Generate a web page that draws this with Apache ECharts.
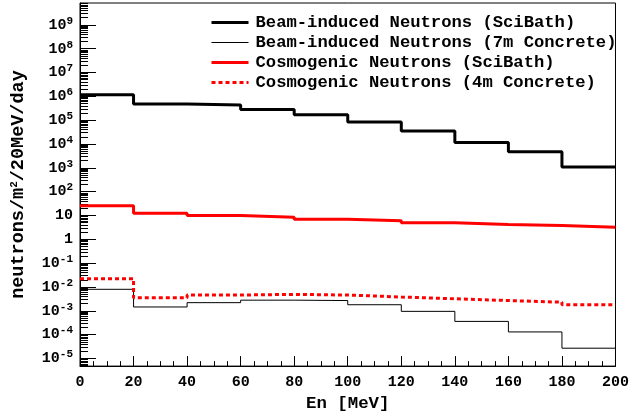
<!DOCTYPE html>
<html>
<head>
<meta charset="utf-8">
<script src="https://cdn.jsdelivr.net/npm/echarts@6/dist/echarts.min.js"></script>
<style>
  html, body { margin: 0; padding: 0; background: #fff; }
  #chart { width: 632px; height: 417px; }
</style>
</head>
<body>
<div id="chart"></div>
<script>
// Bin edges of the energy histograms (MeV)
const binEdges = [0, 20, 40, 60, 80, 100, 120, 140, 160, 180, 200];

// Neutron flux per 20 MeV bin, neutrons/m^2/20MeV/day
const beamSciBath     = [1.17e6, 4.8e5, 4.4e5, 2.8e5, 1.7e5, 8.5e4, 3.5e4, 1.17e4, 4.8e3, 1.1e3];
const beamConcrete7m  = [8.0e-3, 1.45e-3, 2.2e-3, 2.8e-3, 2.7e-3, 1.8e-3, 9.5e-4, 3.6e-4, 1.3e-4, 2.7e-5];
const cosmoSciBath    = [25.7, 12.6, 10.0, 8.5, 7.0, 6.1, 5.0, 4.2, 3.8, 3.2];
const cosmoConcrete4m = [0.0224, 0.0035, 0.0046, 0.0049, 0.0046, 0.0038, 0.0032, 0.0027, 0.0023, 0.0018];

const seriesNames = [
  'Beam-induced Neutrons (SciBath)',
  'Beam-induced Neutrons (7m Concrete)',
  'Cosmogenic Neutrons (SciBath)',
  'Cosmogenic Neutrons (4m Concrete)'
];

// Decade exponents that carry a label on the flux axis
const decadeExponents = [-5, -4, -3, -2, -1, 0, 1, 2, 3, 4, 5, 6, 7, 8, 9];

const yMin = Math.pow(10, -5.32);
const yMax = Math.pow(10, 9.92);

const majorTicks = decadeExponents.map(e => Math.pow(10, e));
const minorTicks = [];
for (let e = -6; e <= 9; e++) {
  for (let m = 2; m <= 9; m++) {
    const v = m * Math.pow(10, e);
    if (v >= yMin && v <= yMax) minorTicks.push(v);
  }
}

// Turn per-bin contents into step points on the bin edges
function histPoints(values) {
  return binEdges.map((x, i) => [x, values[Math.min(i, values.length - 1)]]);
}

function decadeLabel(v) {
  const e = Math.round(Math.log10(v));
  if (e === 0) return '{n|1}';
  if (e === 1) return '{n|10}';
  return '{n|10}{s|' + e + '}';
}

const FONT = 'Liberation Mono';

const chart = echarts.init(document.getElementById('chart'), null, { renderer: 'canvas' });

chart.setOption({
  animation: false,
  backgroundColor: '#ffffff',
  textStyle: { fontFamily: FONT, color: '#000' },
  grid: {
    left: 80, right: 14, top: 3, bottom: 50,
    show: true, borderColor: '#000', borderWidth: 1, backgroundColor: 'transparent'
  },
  legend: {
    orient: 'vertical',
    left: 210, top: 14,
    padding: 0,
    itemWidth: 37, itemHeight: 12, itemGap: 3,
    // legend keys are plain line segments, no marker
    itemStyle: { opacity: 0 },
    textStyle: { fontFamily: FONT, fontWeight: 'bold', fontSize: 17.2, color: '#000', padding: [0, 0, 0, 2] },
    data: [
      { name: seriesNames[0], lineStyle: { width: 3, color: '#000', opacity: 1 } },
      { name: seriesNames[1], lineStyle: { width: 1, color: '#000', opacity: 1 } },
      { name: seriesNames[2], lineStyle: { width: 3, color: '#ff0000', opacity: 1 } },
      { name: seriesNames[3], lineStyle: { width: 3, color: '#ff0000', type: [4, 3], opacity: 1 } }
    ]
  },
  xAxis: {
    type: 'value', min: 0, max: 200, interval: 20,
    name: 'En [MeV]', nameLocation: 'middle', nameGap: 28,
    nameTextStyle: { fontFamily: FONT, fontWeight: 'bold', fontSize: 17.4, color: '#000' },
    axisLine: { lineStyle: { color: '#000', width: 1 } },
    axisTick: { inside: true, length: 10, lineStyle: { color: '#000' } },
    minorTick: { show: true, splitNumber: 4, length: 5, lineStyle: { color: '#000' } },
    splitLine: { show: false },
    axisLabel: { fontFamily: FONT, fontWeight: 'bold', fontSize: 15, color: '#000', margin: 9, showMinLabel: true, showMaxLabel: true }
  },
  yAxis: [
    {
      type: 'log', logBase: 10, min: yMin, max: yMax,
      name: 'neutrons/m{s|2}/20MeV/day', nameLocation: 'middle', nameGap: 52,
      nameTextStyle: {
        fontFamily: FONT, fontWeight: 'bold', fontSize: 18.5, color: '#000',
        rich: {
          s: { fontFamily: FONT, fontWeight: 'bold', fontSize: 11, padding: [0, 0, 8, 0], color: '#000' }
        }
      },
      axisLine: { show: true, lineStyle: { color: '#000', width: 1 } },
      axisTick: { inside: true, length: 16, customValues: majorTicks, lineStyle: { color: '#000' } },
      splitLine: { show: false },
      axisLabel: {
        customValues: majorTicks,
        margin: 7,
        formatter: decadeLabel,
        rich: {
          n: { fontFamily: FONT, fontWeight: 'bold', fontSize: 15, lineHeight: 15, verticalAlign: 'bottom', color: '#000' },
          s: { fontFamily: FONT, fontWeight: 'bold', fontSize: 11, lineHeight: 11, padding: [0, 0, 8, 0], color: '#000' }
        }
      }
    },
    {
      // minor decade subdivisions 2..9
      type: 'log', logBase: 10, min: yMin, max: yMax,
      position: 'left', offset: 0,
      axisLine: { show: false },
      axisTick: { show: true, inside: true, length: 8, customValues: minorTicks, lineStyle: { color: '#000' } },
      axisLabel: { show: false },
      splitLine: { show: false }
    }
  ],
  series: [
    {
      name: seriesNames[0], type: 'line', step: 'end', symbol: 'none',
      lineStyle: { color: '#000', width: 3 }, itemStyle: { color: '#000' },
      data: histPoints(beamSciBath), z: 4
    },
    {
      name: seriesNames[1], type: 'line', step: 'end', symbol: 'none',
      lineStyle: { color: '#000', width: 1 }, itemStyle: { color: '#000' },
      data: histPoints(beamConcrete7m), z: 3
    },
    {
      name: seriesNames[2], type: 'line', step: 'end', symbol: 'none',
      lineStyle: { color: '#ff0000', width: 3 }, itemStyle: { color: '#ff0000' },
      data: histPoints(cosmoSciBath), z: 4
    },
    {
      name: seriesNames[3], type: 'line', step: 'end', symbol: 'none',
      lineStyle: { color: '#ff0000', width: 3, type: [4, 3] }, itemStyle: { color: '#ff0000' },
      data: histPoints(cosmoConcrete4m), z: 4
    }
  ]
});
</script>
</body>
</html>
